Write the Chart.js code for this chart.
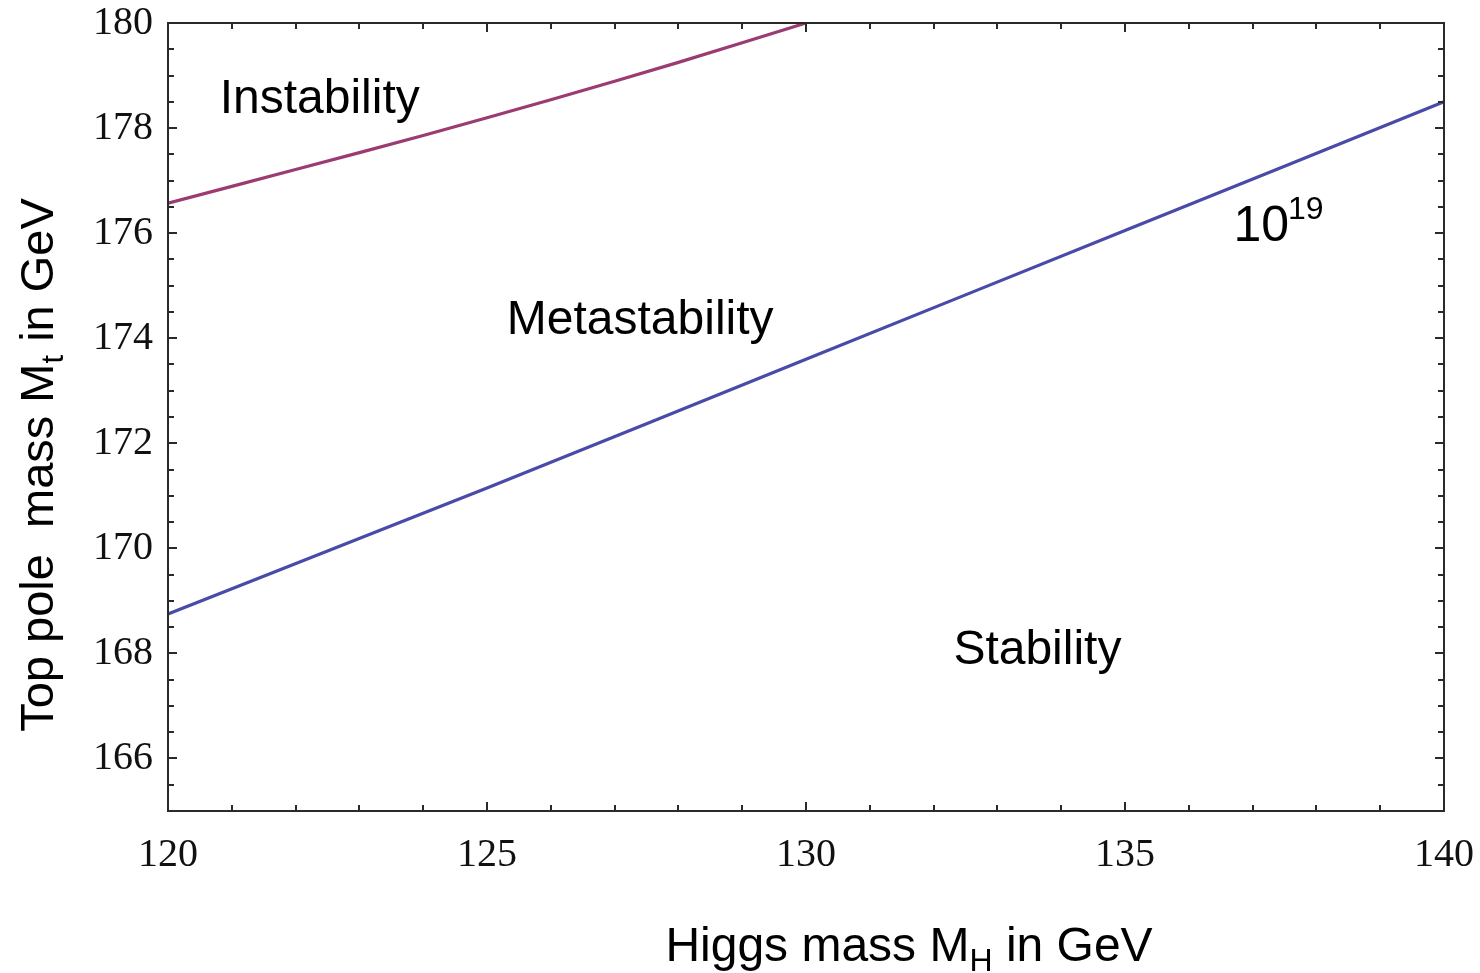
<!DOCTYPE html>
<html>
<head>
<meta charset="utf-8">
<script src="https://cdn.jsdelivr.net/npm/chart.js@4.4.1/dist/chart.umd.min.js"></script>
<style>
  html, body { margin: 0; padding: 0; background: #fff; }
  #wrap { width: 1480px; height: 973px; position: relative; }
</style>
</head>
<body>
<div id="wrap"><canvas id="c" width="1480" height="973"></canvas></div>
<script>
// ---- Data ----
const instabilityMH = [120, 122, 124, 126, 128, 130];
const instabilityMt = [176.57, 177.21, 177.86, 178.54, 179.25, 180.0];

const planckMH = [120, 125, 130, 135, 140];
const planckMt = [168.75, 171.15, 173.6, 176.05, 178.5];

const xTickValues = [120, 125, 130, 135, 140];
const yTickValues = [166, 168, 170, 172, 174, 176, 178, 180];

const xTitle = ["Higgs mass M", "H", " in GeV"];
const yTitle = ["Top pole  mass M", "t", " in GeV"];

const regionLabels = [
  { text: "Instability",   x: 120.81, y: 178.28 },
  { text: "Metastability", x: 125.31, y: 174.08 },
  { text: "Stability",     x: 132.31, y: 167.80 }
];
const scaleLabel = { base: "10", sup: "19", x: 136.70, y: 175.85 };

// ---- Build datasets ----
const toPts = (xs, ys) => xs.map((x, i) => ({ x, y: ys[i] }));

const SANS = '"Liberation Sans", Arial, sans-serif';
const SERIF = '"Liberation Serif", "Times New Roman", serif';

const framePlugin = {
  id: 'frameAndTicks',
  afterDraw(chart) {
    const { ctx, chartArea: a, scales } = chart;
    const xs = scales.x, ys = scales.y;
    ctx.save();
    ctx.strokeStyle = '#2a2a2a';
    ctx.lineWidth = 2;
    ctx.strokeRect(a.left, a.top, a.right - a.left, a.bottom - a.top);
    // inward ticks, all four sides
    ctx.beginPath();
    for (let v = xs.min; v <= xs.max + 1e-9; v += 1) {
      if (v === xs.min || v === xs.max) continue;
      const px = Math.round(xs.getPixelForValue(v));
      const len = (v % 5 === 0) ? 9 : 6;
      ctx.moveTo(px, a.bottom); ctx.lineTo(px, a.bottom - len);
      ctx.moveTo(px, a.top); ctx.lineTo(px, a.top + len);
    }
    for (let v = ys.min; v <= ys.max + 1e-9; v += 0.5) {
      if (v === ys.min || v === ys.max) continue;
      const py = Math.round(ys.getPixelForValue(v));
      const len = (v % 2 === 0) ? 9 : 6;
      ctx.moveTo(a.left, py); ctx.lineTo(a.left + len, py);
      ctx.moveTo(a.right, py); ctx.lineTo(a.right - len, py);
    }
    ctx.stroke();

    ctx.fillStyle = '#000';
    ctx.textBaseline = 'alphabetic';
    ctx.textAlign = 'left';

    // region labels
    ctx.font = '48px ' + SANS;
    regionLabels.forEach(l => {
      ctx.fillText(l.text, xs.getPixelForValue(l.x), ys.getPixelForValue(l.y));
    });
    // 10^19
    const bx = xs.getPixelForValue(scaleLabel.x), by = ys.getPixelForValue(scaleLabel.y);
    ctx.font = '50px ' + SANS;
    ctx.fillText(scaleLabel.base, bx, by);
    const bw = ctx.measureText(scaleLabel.base).width;
    ctx.font = '32px ' + SANS;
    ctx.fillText(scaleLabel.sup, bx + bw - 1, by - 22);

    // titles with subscripts
    const drawTitle = (parts, baseX, baseY, size) => {
      let x = baseX;
      const sub = Math.round(size * 0.66);
      ctx.font = size + 'px ' + SANS;
      ctx.fillText(parts[0], x, baseY); x += ctx.measureText(parts[0]).width;
      ctx.font = sub + 'px ' + SANS;
      ctx.fillText(parts[1], x, baseY + 10); x += ctx.measureText(parts[1]).width;
      ctx.font = size + 'px ' + SANS;
      ctx.fillText(parts[2], x, baseY);
    };
    const totalW = (parts, size) => {
      ctx.font = size + 'px ' + SANS;
      let w = ctx.measureText(parts[0]).width + ctx.measureText(parts[2]).width;
      ctx.font = Math.round(size * 0.66) + 'px ' + SANS;
      return w + ctx.measureText(parts[1]).width;
    };
    const xw = totalW(xTitle, 48);
    drawTitle(xTitle, 909 - xw / 2, 961, 48);

    const yw = totalW(yTitle, 47);
    ctx.save();
    ctx.translate(53, 465);
    ctx.rotate(-Math.PI / 2);
    drawTitle(yTitle, -yw / 2, 0, 47);
    ctx.restore();

    ctx.restore();
  }
};

new Chart(document.getElementById('c'), {
  type: 'scatter',
  data: {
    datasets: [
      {
        label: 'Instability bound',
        data: toPts(instabilityMH, instabilityMt),
        showLine: true,
        borderColor: '#9b3b72',
        borderWidth: 3.2,
        pointRadius: 0,
        tension: 0.3
      },
      {
        label: 'Stability bound (10^19 GeV)',
        data: toPts(planckMH, planckMt),
        showLine: true,
        borderColor: '#4a4aa8',
        borderWidth: 3.2,
        pointRadius: 0,
        tension: 0.3
      }
    ]
  },
  options: {
    responsive: false,
    animation: false,
    devicePixelRatio: 1,
    layout: { padding: { top: 23, right: 36, left: 0, bottom: 0 } },
    plugins: { legend: { display: false }, tooltip: { enabled: false } },
    scales: {
      x: {
        type: 'linear',
        min: 120, max: 140,
        afterBuildTicks: s => { s.ticks = xTickValues.map(v => ({ value: v })); },
        afterFit: s => { s.height = 162; s.paddingLeft = 0; s.paddingRight = 0; },
        grid: { display: false, drawTicks: false },
        border: { display: false },
        ticks: {
          padding: 20,
          color: '#111',
          font: { family: SERIF, size: 40 },
          maxRotation: 0,
          autoSkip: false
        }
      },
      y: {
        type: 'linear',
        min: 165, max: 180,
        afterBuildTicks: s => { s.ticks = yTickValues.map(v => ({ value: v })); },
        afterFit: s => { s.width = 168; s.paddingTop = 0; s.paddingBottom = 0; },
        grid: { display: false, drawTicks: false },
        border: { display: false },
        ticks: {
          padding: 15,
          color: '#111',
          font: { family: SERIF, size: 40 },
          autoSkip: false
        }
      }
    }
  },
  plugins: [framePlugin]
});
</script>
</body>
</html>
